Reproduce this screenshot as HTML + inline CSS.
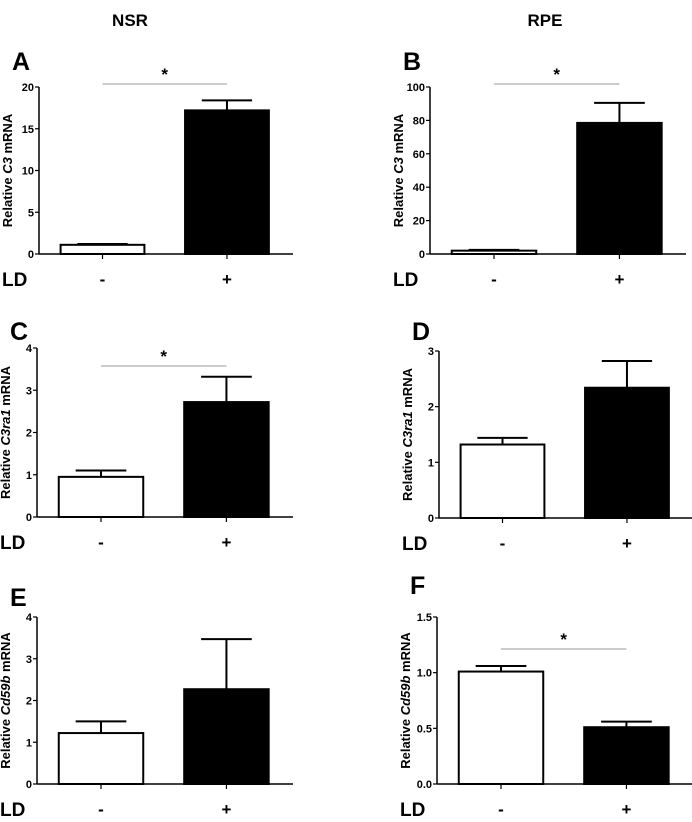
<!DOCTYPE html>
<html><head><meta charset="utf-8"><style>
body{margin:0;background:#fff;font-family:"Liberation Sans",Arial,sans-serif}
svg text{font-family:"Liberation Sans",Arial,sans-serif}
</style></head><body>
<svg id="fig" width="692" height="817" viewBox="0 0 692 817">
<text x="130" y="26" font-size="17" font-weight="bold" text-anchor="middle">NSR</text>
<text x="545" y="26" font-size="17" font-weight="bold" text-anchor="middle">RPE</text>
</svg>
<script>
const panelLetters=["A","B","C","D","E","F"];
const genes=["C3","C3","C3ra1","C3ra1","Cd59b","Cd59b"];
const yMaxes=[20,100,4,3,4,1.5];
const yTicks=[[0,5,10,15,20],[0,20,40,60,80,100],[0,1,2,3,4],[0,1,2,3],[0,1,2,3,4],[0,0.5,1,1.5]];
const tickDecimals=[0,0,0,0,0,1];
const categories=["-","+"];
const meansMinus=[1.1,2,0.95,1.32,1.22,1.01];
const meansPlus=[17.2,78.5,2.72,2.34,2.27,0.51];
const semMinus=[0.1,0.5,0.15,0.12,0.28,0.05];
const semPlus=[1.2,12,0.6,0.48,1.2,0.05];
const significant=[true,true,true,false,false,true];

const NS="http://www.w3.org/2000/svg";
const svg=document.getElementById('fig');
const layout=[
 {ax:39,top:87,base:254,right:293,star:84,label:70},
 {ax:430,top:87,base:254,right:686,star:84,label:70},
 {ax:37,top:348,base:517,right:293,star:366,label:340},
 {ax:439,top:351,base:518,right:693,star:null,label:340},
 {ax:37,top:617,base:784,right:293,star:null,label:606},
 {ax:437,top:617,base:784,right:693,star:649,label:594}
];
function mk(tag,attrs,parent){const e=document.createElementNS(NS,tag);for(const k in attrs)e.setAttribute(k,attrs[k]);(parent||svg).appendChild(e);return e;}
layout.forEach((L,i)=>{
 const g=mk('g',{});
 
 
 const y=v=>L.base-(v/yMaxes[i])*(L.base-L.top);
 const w=L.right-L.ax;
 const cx=[L.ax+w*0.25,L.ax+w*0.74];
 const bw=w*0.33;
 const lt=mk('text',{x:L.ax-27,y:L.label,'font-size':25,'font-weight':'bold'},g);lt.textContent=panelLetters[i];
 
 
 const ya=mk('line',{x1:L.ax,y1:L.top,x2:L.ax,y2:L.base,stroke:'#000','stroke-width':1.5},g);
 
 
 const xa=mk('line',{x1:L.ax,y1:L.base,x2:L.right,y2:L.base,stroke:'#000','stroke-width':1.5},g);
 
 
 yTicks[i].forEach(t=>{
  mk('line',{x1:L.ax-4,y1:y(t),x2:L.ax,y2:y(t),stroke:'#000','stroke-width':1.2},g);
  const tx=mk('text',{x:L.ax-5,y:y(t)+4,'font-size':11,'font-weight':'bold','text-anchor':'end'},g);
  tx.textContent=t.toFixed(tickDecimals[i]);
  
  
 });
 const yt=mk('text',{transform:`translate(${L.ax-27},${(L.top+L.base)/2}) rotate(-90)`,'font-size':13,'font-weight':'bold','text-anchor':'middle'},g);
 yt.innerHTML='Relative <tspan font-style="italic">'+genes[i]+'</tspan> mRNA';
 
 
 const means=[meansMinus[i],meansPlus[i]],sems=[semMinus[i],semPlus[i]];
 [0,1].forEach(k=>{
  const top=y(means[k]),ey=y(means[k]+sems[k]);
  const el=mk('line',{x1:cx[k],y1:top,x2:cx[k],y2:ey,stroke:'#000','stroke-width':2},g);
  
  
  mk('line',{x1:cx[k]-bw*0.3,y1:ey,x2:cx[k]+bw*0.3,y2:ey,stroke:'#000','stroke-width':2},g);
  const r=mk('rect',{x:cx[k]-bw/2,y:top,width:bw,height:L.base-top,fill:k?'#000':'#fff',stroke:'#000','stroke-width':2},g);
  
  
  mk('line',{x1:cx[k],y1:L.base,x2:cx[k],y2:L.base+5,stroke:'#000','stroke-width':1.2},g);
  const cl=mk('text',{x:cx[k],y:L.base+31,'font-size':17,'font-weight':'bold','text-anchor':'middle'},g);
  cl.textContent=categories[k];
  
  
 });
 const ld=mk('text',{x:L.ax-37,y:L.base+32,'font-size':19,'font-weight':'bold'},g);
 ld.textContent='LD';
 
 
 if(significant[i]&&L.star){
  const sl=mk('line',{x1:cx[0],y1:L.star,x2:cx[1],y2:L.star,stroke:'#999','stroke-width':1},g);
  
  
  const st=mk('text',{x:(cx[0]+cx[1])/2,y:L.star-4,'font-size':17,'font-weight':'bold','text-anchor':'middle'},g);
  st.textContent='*';
  
  
 }
});
</script>
</body></html>
